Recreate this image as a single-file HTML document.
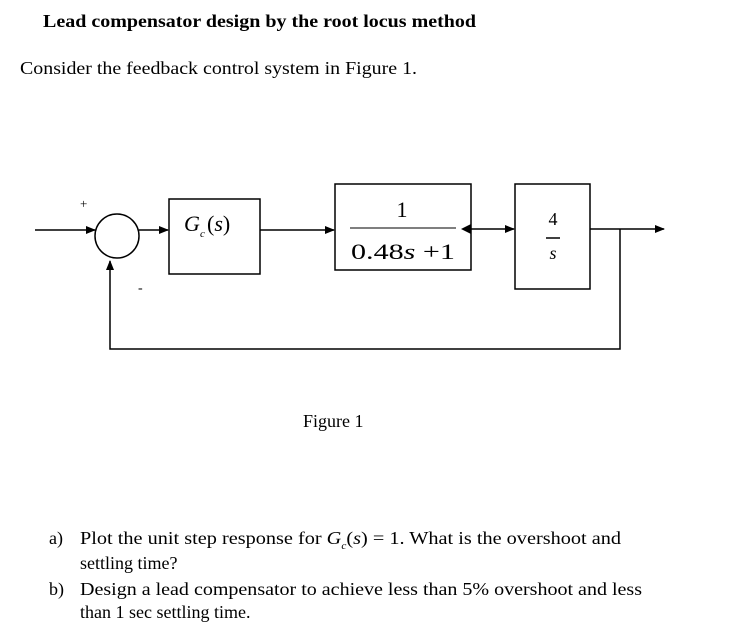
<!DOCTYPE html>
<html><head><meta charset="utf-8"><style>
html,body{margin:0;padding:0;background:#fff;}
svg{display:block;}
text{font-family:"Liberation Serif",serif;fill:#000;}
</style></head><body>
<svg width="733" height="641" viewBox="0 0 733 641" xmlns="http://www.w3.org/2000/svg">
<defs><marker id="a" markerWidth="10" markerHeight="8" refX="9" refY="4" orient="auto" markerUnits="userSpaceOnUse"><path d="M0,0 L10,4 L0,8 z" fill="#000"/></marker></defs>
<text x="43" y="27" font-size="18" font-weight="bold" textLength="433" lengthAdjust="spacingAndGlyphs">Lead compensator design by the root locus method</text>
<text x="20" y="74" font-size="18" textLength="397" lengthAdjust="spacingAndGlyphs">Consider the feedback control system in Figure 1.</text>
<g stroke="#000" stroke-width="1.5" fill="none">
<line x1="35" y1="230" x2="95" y2="230" marker-end="url(#a)"/>
<circle cx="117" cy="236" r="22"/>
<line x1="139" y1="230" x2="168" y2="230" marker-end="url(#a)"/>
<rect x="169" y="199" width="91" height="75"/>
<line x1="260" y1="230" x2="334" y2="230" marker-end="url(#a)"/>
<rect x="335" y="184" width="136" height="86"/>
<line x1="471" y1="229" x2="514" y2="229" marker-end="url(#a)"/>
<rect x="515" y="184" width="75" height="105"/>
<line x1="590" y1="229" x2="664" y2="229" marker-end="url(#a)"/>
<polyline points="620,229 620,349 110,349 110,261" marker-end="url(#a)"/>
<line x1="350" y1="228" x2="456" y2="228" stroke="#555"/>
<line x1="546" y1="238" x2="560" y2="238"/>
</g>
<path d="M461,229 L471,224 L471,234 z" fill="#000"/>
<text x="80" y="208" font-size="13">+</text>
<text x="138" y="292" font-size="14">-</text>
<text x="184" y="231" font-size="22" font-style="italic">G</text>
<text x="200" y="237" font-size="11" font-style="italic">c</text>
<text x="207" y="231" font-size="22">(<tspan font-style="italic">s</tspan>)</text>
<text x="402" y="217" font-size="22" text-anchor="middle">1</text>
<text x="351" y="259" font-size="22" textLength="104" lengthAdjust="spacingAndGlyphs">0.48<tspan font-style="italic">s</tspan> +1</text>
<text x="553" y="225" font-size="18" text-anchor="middle">4</text>
<text x="553" y="259" font-size="18" font-style="italic" text-anchor="middle">s</text>
<text x="303" y="427" font-size="18">Figure 1</text>
<text x="49" y="544" font-size="18">a)</text>
<text x="80" y="544" font-size="18" textLength="541" lengthAdjust="spacingAndGlyphs">Plot the unit step response for <tspan font-style="italic">G</tspan><tspan font-size="10" dy="5" font-style="italic">c</tspan><tspan dy="-5">(<tspan font-style="italic">s</tspan>) = 1. What is the overshoot and</tspan></text>
<text x="80" y="569" font-size="18">settling time?</text>
<text x="49" y="595" font-size="18">b)</text>
<text x="80" y="595" font-size="18" textLength="562" lengthAdjust="spacingAndGlyphs">Design a lead compensator to achieve less than 5% overshoot and less</text>
<text x="80" y="618" font-size="18">than 1 sec settling time.</text>
</svg>
</body></html>
